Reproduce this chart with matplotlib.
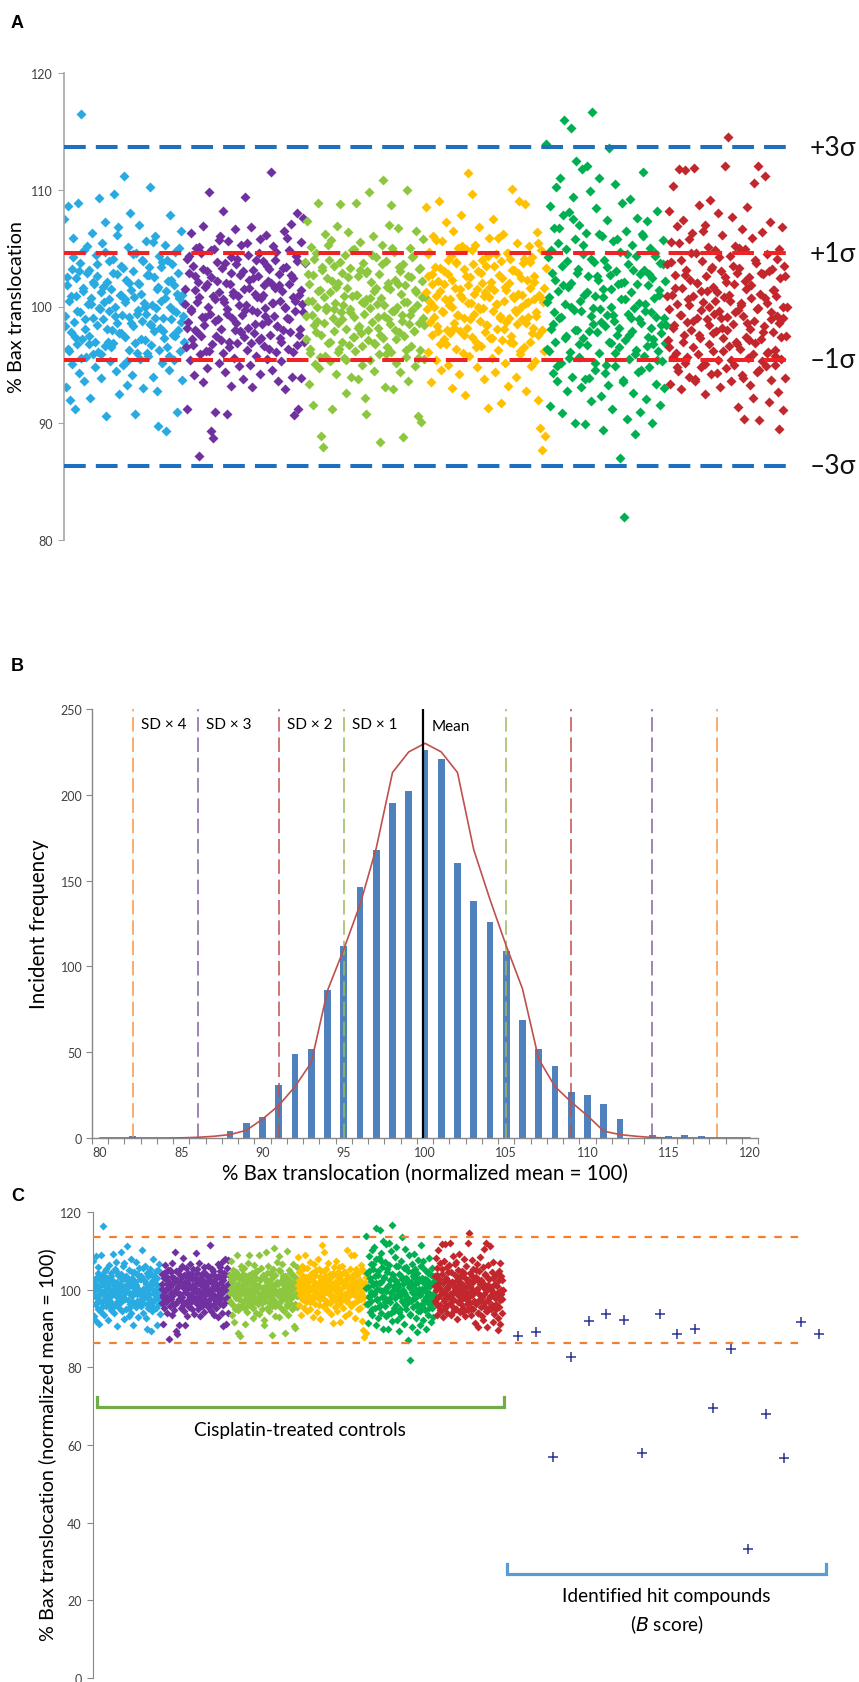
import matplotlib
matplotlib.use("Agg")
import matplotlib.pyplot as plt
import numpy as np

W, H = 859, 1683
FONT = ["Lato", "DejaVu Sans"]

# ---- panel A / C: control wells, six plates ----
cyan_vals = [
    107.5, 99.2, 93.1, 101.8, 96.4, 108.6, 100.5, 92.0, 97.8, 103.2, 95.1, 105.9, 98.7, 91.2, 102.4,
    100.9, 96.8, 108.9, 94.3, 103.7, 99.5, 116.5, 97.2, 101.6, 93.6, 104.8, 98.1, 95.7, 102.9, 100.2,
    97.5, 103.1, 92.2, 100.7, 106.3, 95.9, 99.0, 101.9, 94.8, 104.4, 98.4, 102.6, 96.1, 109.3, 99.8,
    101.2, 93.9, 105.4, 98.9, 100.4, 96.6, 107.2, 90.6, 102.1, 97.0, 103.9, 99.6, 95.3, 101.5, 98.0,
    104.1, 96.9, 109.6, 100.0, 94.5, 102.8, 98.6, 106.8, 92.5, 101.0, 97.7, 103.5, 99.3, 95.0, 111.2,
    100.6, 97.4, 102.3, 93.3, 105.1, 99.1, 96.3, 108.0, 101.4, 94.1, 103.0, 98.3, 100.8, 90.8, 104.6,
    96.0, 102.0, 99.7, 107.0, 95.5, 101.1, 98.8, 104.0, 93.0, 100.3, 97.1, 105.6, 99.4, 102.7, 95.8,
    103.4, 98.5, 110.2, 96.7, 100.1, 94.0, 102.5, 97.9, 106.0, 99.9, 92.8, 101.7, 89.8, 104.3, 98.2,
    100.5, 95.2, 103.8, 99.0, 97.3, 105.3, 101.3, 89.3, 96.5, 102.2, 94.6, 100.0, 107.8, 98.9, 103.6,
    97.6, 101.8, 95.4, 104.7, 99.5, 91.0, 102.9, 98.0, 100.7, 96.2, 106.5, 93.7, 101.0, 99.2, 97.0,
]
cyan_core = [
    98.3, 102.5, 96.2, 100.9, 104.2, 97.4, 99.6, 103.0, 95.6, 101.3, 98.9, 105.2, 96.8, 100.2, 102.1,
    97.0, 103.6, 99.9, 95.9, 101.7, 104.7, 98.1, 100.6, 96.5, 102.9, 99.2, 106.1, 97.7, 101.0, 103.3,
    100.4, 95.3, 102.0, 98.6, 104.5, 96.9, 99.4, 101.9, 97.2, 103.9, 100.0, 96.0, 102.7, 98.4, 105.5,
    99.0, 101.5, 96.3, 103.4, 97.9, 100.7, 104.0, 95.8, 102.3, 99.7, 97.5, 101.1, 105.0, 98.7, 100.3,
]
purple_vals = [
    100.2, 96.5, 104.1, 91.2, 98.7, 102.9, 95.4, 106.3, 99.6, 97.2, 103.5, 94.1, 101.4, 98.0, 105.0,
    97.8, 102.1, 87.2, 100.8, 95.9, 104.6, 99.1, 93.5, 106.9, 98.4, 101.7, 96.2, 103.0, 94.7, 100.0,
    109.8, 99.4, 89.3, 102.5, 96.8, 88.7, 104.9, 100.6, 91.0, 97.5, 103.8, 98.9, 95.2, 101.2, 106.0,
    98.1, 103.3, 96.0, 108.2, 100.4, 94.4, 102.0, 90.8, 99.8, 105.6, 97.0, 101.9, 93.2, 104.2, 99.0,
    101.0, 95.6, 106.6, 98.6, 103.6, 96.9, 100.9, 94.9, 102.7, 97.9, 105.3, 99.3, 93.8, 101.5, 97.4,
    109.4, 100.1, 96.3, 104.4, 98.2, 102.3, 95.0, 106.8, 99.7, 93.1, 103.1, 97.7, 101.1, 95.8, 104.0,
    99.5, 102.6, 97.1, 105.8, 94.2, 100.7, 98.5, 103.9, 96.6, 101.8, 99.9, 106.1, 95.5, 102.2, 98.8,
    103.2, 97.6, 111.5, 100.3, 94.6, 105.2, 99.2, 101.6, 96.1, 104.7, 98.3, 93.6, 102.8, 100.5, 97.3,
    95.3, 101.3, 98.0, 106.5, 100.0, 92.9, 103.4, 99.0, 96.4, 104.8, 101.9, 97.8, 107.1, 94.0, 100.8,
    102.4, 90.7, 99.6, 104.3, 96.7, 108.0, 91.2, 101.0, 98.1, 105.5, 93.9, 100.2, 107.6, 97.0, 103.7,
]
purple_core = [
    101.5, 98.2, 104.3, 99.8, 96.7, 102.6, 100.4, 105.1, 97.5, 103.2, 99.1, 101.9, 96.2, 104.8, 100.9,
    98.8, 102.2, 105.7, 97.1, 100.6, 103.7, 99.4, 96.5, 102.9, 101.2, 98.0, 104.1, 100.1, 97.8, 103.0,
    99.7, 105.4, 101.6, 96.9, 102.4, 98.5, 100.8, 104.6, 97.3, 101.0, 99.2, 103.5, 96.4, 102.0, 100.3,
    104.0, 98.3, 101.8, 97.0, 103.3, 99.9, 105.9, 98.9, 102.7, 96.1, 100.5, 103.9, 97.6, 101.4, 99.5,
]
lime_vals = [
    103.8, 97.2, 107.3, 100.5, 93.4, 101.9, 96.0, 105.1, 99.3, 91.6, 102.7, 98.4, 95.1, 104.6, 100.0,
    98.8, 108.9, 94.7, 101.4, 88.9, 97.6, 103.1, 88.0, 100.8, 106.2, 95.8, 99.7, 102.4, 96.9, 104.0,
    101.2, 95.3, 105.7, 91.2, 99.0, 103.5, 97.9, 100.3, 94.2, 106.9, 98.6, 102.0, 96.4, 108.8, 99.5,
    97.0, 102.9, 100.1, 95.6, 104.4, 98.1, 92.6, 101.6, 106.4, 96.7, 103.3, 99.8, 94.0, 100.9, 97.4,
    104.9, 99.1, 96.2, 108.9, 101.0, 93.8, 102.6, 98.3, 105.5, 97.7, 100.4, 95.0, 103.7, 99.4, 92.2,
    100.6, 90.8, 103.0, 97.1, 109.8, 99.9, 95.4, 102.1, 98.7, 106.0, 94.5, 101.3, 96.8, 104.2, 100.2,
    98.2, 102.8, 95.9, 88.4, 100.7, 105.3, 97.3, 110.8, 99.2, 93.1, 103.9, 96.5, 101.7, 98.9, 107.0,
    101.5, 96.1, 108.7, 99.6, 92.9, 104.7, 98.0, 102.3, 95.2, 100.0, 106.7, 97.8, 103.4, 94.4, 101.1,
    99.3, 88.8, 103.6, 97.5, 101.8, 95.7, 110.0, 100.4, 93.6, 98.5, 105.0, 102.5, 96.6, 99.7, 104.3,
    97.9, 101.4, 94.9, 106.5, 100.1, 90.6, 103.2, 98.6, 96.3, 90.1, 102.2, 99.0, 105.8, 95.5, 100.8,
]
lime_core = [
    99.2, 102.8, 96.4, 100.5, 104.1, 97.8, 101.3, 95.7, 103.4, 98.6, 100.0, 105.3, 97.0, 102.2, 99.8,
    101.7, 96.1, 103.8, 98.9, 100.9, 95.4, 102.5, 99.5, 104.8, 97.4, 101.0, 98.2, 103.1, 96.6, 100.3,
    102.9, 98.0, 100.7, 104.4, 96.9, 101.6, 99.1, 97.6, 103.6, 100.1, 95.9, 102.0, 98.5, 105.0, 99.6,
    97.2, 101.9, 103.0, 98.8, 100.4, 96.3, 102.6, 99.3, 104.2, 97.9, 101.2, 95.6, 103.3, 100.8, 98.4,
]
yellow_vals = [
    108.5, 99.8, 102.6, 96.1, 104.7, 100.4, 93.5, 101.9, 97.6, 106.0, 99.1, 103.4, 95.4, 100.9, 98.3,
    102.2, 109.0, 96.8, 101.3, 94.6, 105.6, 99.5, 103.0, 97.2, 100.6, 107.2, 98.0, 95.0, 102.8, 100.1,
    97.7, 104.3, 100.0, 93.0, 106.5, 98.6, 101.6, 96.4, 103.8, 99.3, 105.0, 94.2, 101.0, 97.9, 107.8,
    100.7, 96.0, 103.2, 99.0, 92.4, 104.9, 98.2, 101.8, 111.4, 95.8, 102.5, 100.3, 109.6, 97.4, 103.6,
    99.4, 105.3, 97.0, 101.5, 94.8, 100.0, 106.8, 98.8, 102.9, 96.6, 104.0, 99.9, 93.8, 101.2, 97.8,
    103.5, 98.4, 91.3, 100.8, 105.9, 97.3, 102.1, 95.6, 107.5, 99.6, 101.4, 94.4, 104.5, 98.1, 100.2,
    96.3, 102.7, 99.2, 91.7, 103.9, 97.1, 106.2, 100.5, 95.2, 101.7, 98.7, 104.6, 93.2, 102.0, 99.0,
    104.1, 97.5, 110.1, 100.9, 96.9, 103.1, 99.7, 94.0, 105.4, 98.5, 101.1, 109.0, 95.9, 102.4, 100.0,
    98.9, 103.7, 96.5, 108.8, 100.3, 92.8, 102.3, 99.1, 105.2, 97.0, 101.6, 94.9, 104.2, 98.2, 100.6,
    102.6, 95.3, 99.5, 106.4, 97.6, 92.0, 101.0, 89.6, 104.8, 98.0, 87.7, 100.4, 96.2, 88.9, 103.3,
]
yellow_core = [
    101.2, 104.5, 98.7, 102.8, 100.0, 105.7, 97.9, 103.3, 99.6, 101.9, 96.8, 104.0, 100.6, 102.3, 98.2,
    103.7, 99.3, 101.5, 105.2, 97.6, 102.6, 100.3, 98.9, 104.8, 101.1, 96.5, 103.0, 99.8, 102.0, 100.9,
    98.4, 104.3, 101.7, 97.3, 103.5, 100.2, 105.9, 99.0, 102.4, 98.1, 101.4, 104.6, 97.0, 103.1, 100.7,
    99.5, 102.9, 96.2, 101.0, 104.1, 98.6, 100.4, 103.8, 97.7, 102.1, 99.2, 105.4, 100.8, 98.0, 101.6,
]
green_vals = [
    113.9, 96.4, 104.2, 100.8, 91.5, 108.6, 98.1, 102.9, 94.3, 106.7, 99.5, 97.0, 110.2, 93.6, 101.3,
    105.4, 99.0, 111.0, 95.2, 103.5, 90.9, 107.8, 116.0, 100.2, 97.5, 104.9, 92.8, 101.7, 108.1, 96.1,
    115.3, 102.0, 94.0, 109.4, 99.7, 105.8, 90.0, 112.5, 98.0, 103.2, 95.7, 107.0, 100.5, 93.1, 111.8,
    97.3, 104.5, 101.0, 89.9, 106.3, 112.0, 96.7, 102.6, 93.9, 109.9, 99.2, 91.9, 116.7, 98.5, 103.8,
    100.9, 94.6, 108.4, 97.8, 102.3, 96.0, 111.0, 99.8, 92.3, 106.0, 101.5, 89.4, 104.0, 98.3, 95.0,
    107.4, 99.3, 93.3, 113.6, 102.7, 96.9, 100.0, 91.2, 105.6, 98.8, 110.5, 94.9, 103.0, 97.6, 101.9,
    96.5, 104.7, 87.0, 100.6, 108.9, 93.7, 82.0, 102.1, 97.1, 106.5, 90.4, 99.4, 103.6, 95.5, 109.2,
    101.2, 97.9, 105.3, 92.6, 99.9, 89.1, 104.3, 96.3, 107.6, 94.4, 100.3, 102.8, 91.0, 98.6, 106.2,
    111.5, 95.8, 103.1, 99.6, 92.1, 107.3, 97.4, 101.8, 94.8, 105.0, 98.2, 90.0, 102.4, 96.8, 100.7,
    104.6, 93.4, 99.1, 108.2, 96.2, 101.4, 91.6, 103.7, 97.7, 95.3, 105.7, 99.0, 93.0, 102.2, 98.4,
]
green_core = [
    100.4, 96.2, 104.8, 98.5, 102.3, 94.9, 106.7, 99.1, 101.8, 97.3, 103.9, 95.6, 100.0, 107.5, 98.0,
    102.9, 96.8, 99.6, 105.3, 93.8, 101.2, 97.9, 104.1, 99.9, 95.2, 102.6, 106.2, 98.7, 100.8, 94.3,
    103.4, 97.0, 101.5, 99.3, 96.0, 105.8, 98.2, 102.0, 93.5, 100.6, 104.5, 97.6, 99.0, 103.1, 95.9,
    101.9, 98.9, 94.6, 106.0, 100.2, 96.6, 102.8, 99.5, 97.2, 104.3, 95.4, 101.0, 98.4, 103.6, 96.9,
]
red_vals = [
    103.6, 97.1, 108.2, 99.8, 93.4, 105.5, 101.0, 95.7, 110.3, 98.4, 102.7, 96.0, 106.9, 100.2, 94.5,
    111.8, 99.3, 104.0, 92.9, 101.6, 107.4, 97.6, 111.7, 95.2, 103.1, 98.7, 100.6, 105.8, 94.0, 102.3,
    98.0, 106.3, 100.9, 96.5, 111.9, 93.8, 104.6, 99.0, 102.0, 95.9, 108.7, 97.3, 101.3, 94.8, 103.9,
    100.4, 95.1, 107.0, 92.5, 102.6, 98.9, 105.1, 96.8, 100.0, 109.1, 94.2, 103.4, 97.7, 101.7, 99.4,
    104.8, 97.9, 101.2, 95.4, 108.0, 99.6, 93.1, 103.0, 98.2, 106.1, 96.2, 100.8, 112.0, 94.7, 102.1,
    99.1, 114.5, 96.6, 104.3, 100.5, 93.6, 107.7, 98.5, 101.9, 95.0, 105.2, 97.0, 102.9, 99.7, 91.4,
    103.3, 96.4, 100.1, 106.6, 94.1, 99.2, 90.4, 104.9, 97.4, 101.5, 108.5, 95.6, 102.5, 98.1, 93.3,
    100.7, 105.9, 92.2, 98.8, 110.6, 96.9, 103.7, 94.4, 112.0, 99.9, 90.3, 101.1, 97.2, 106.4, 95.3,
    102.8, 98.3, 111.2, 94.9, 100.3, 104.5, 96.1, 91.8, 107.2, 99.5, 93.7, 103.2, 97.8, 101.4, 95.8,
    96.3, 100.9, 104.1, 92.7, 98.6, 89.5, 102.4, 95.5, 106.8, 91.1, 99.0, 103.5, 93.9, 97.5, 100.0,
]
red_core = [
    100.9, 96.5, 103.8, 98.2, 101.6, 94.8, 105.4, 99.3, 97.0, 102.7, 95.7, 100.1, 104.6, 98.8, 93.6,
    102.0, 97.6, 99.7, 106.5, 95.1, 101.3, 98.4, 103.2, 96.2, 100.5, 94.3, 104.2, 99.0, 97.3, 102.5,
    98.0, 101.0, 95.4, 103.5, 99.5, 96.8, 105.0, 100.3, 93.9, 102.2, 98.6, 97.1, 101.8, 95.9, 104.0,
    99.8, 94.6, 102.9, 97.8, 100.7, 96.0, 103.0, 98.9, 101.4, 95.0, 99.2, 104.9, 97.4, 100.0, 102.6,
]
plate_vals = [cyan_vals, purple_vals, lime_vals, yellow_vals, green_vals, red_vals]
plate_core = [cyan_core, purple_core, lime_core, yellow_core, green_core, red_core]
plate_colors = ["#29abe2", "#7030a0", "#8dc63f", "#ffc000", "#00b050", "#c1272d"]

sigma_levels = [113.65, 104.55, 95.45, 86.35]
sigma_labels = ["+3σ", "+1σ", "–1σ", "–3σ"]
sigma_colors = ["#1f6fc1", "#ee2326", "#ee2326", "#1f6fc1"]

# ---- panel B: histogram of control wells ----
bin_centers = list(range(80, 121))
bin_counts = [0, 0, 1, 0, 0, 0, 0, 0, 4, 9, 12, 31, 49, 52, 86, 112, 146, 168, 195, 202,
              226, 221, 160, 138, 126, 109, 69, 52, 42, 27, 25, 20, 11, 0, 2, 1, 2, 1, 0, 0, 0]
fit_counts = [0, 0, 0, 0, 0, 0.1, 0.4, 1, 2, 4.5, 11, 19, 30, 44, 86, 110, 136, 169, 213, 225,
              230, 225, 213, 168, 139, 112, 87, 46, 30, 21, 13, 4, 2, 1, 0.3, 0, 0, 0, 0, 0, 0]
sd_lines = [82, 86, 91, 95, 105, 109, 114, 118]
sd_colors = ["#f79646", "#8064a2", "#c0504d", "#9bbb59", "#9bbb59", "#c0504d", "#8064a2", "#f79646"]
sd_texts = ["SD × 4", "SD × 3", "SD × 2", "SD × 1"]
mean_pos = 99.85

# ---- panel C: hit compounds ----
hit_vals = [88.1, 89.1, 56.9, 82.7, 91.9, 93.7, 92.2, 58.0, 93.7,
            88.6, 89.9, 69.5, 84.7, 33.3, 68.0, 56.7, 91.7, 88.6]


def px_axes(fig, left, top, right, bottom):
    return fig.add_axes([left / W, 1 - bottom / H, (right - left) / W, (bottom - top) / H])


def style_ticks(ax):
    ax.tick_params(axis="both", labelsize=9, colors="#404040", length=4, width=0.8,
                   direction="out", pad=3)
    for lab in ax.get_xticklabels() + ax.get_yticklabels():
        lab.set_family(FONT)


def draw_plates(ax, ms):
    for g, (vals, core) in enumerate(zip(plate_vals, plate_core)):
        x = g + (np.arange(len(vals)) + 0.5) / len(vals)
        xc = g + (np.arange(len(core)) + 0.25) / len(core)
        ax.plot(np.r_[x, xc], vals + core, "D", ms=ms, color=plate_colors[g], mec="none",
                zorder=2)


fig = plt.figure(figsize=(W / 100, H / 100), dpi=100)

# ================= A =================
axA = px_axes(fig, 64, 74, 793, 541)
draw_plates(axA, 4.7)
for lev, lab, col in zip(sigma_levels, sigma_labels, sigma_colors):
    axA.axhline(lev, color=col, lw=2.9, dashes=(5.4, 2.5), zorder=3)
    axA.text(6.19, lev, lab, fontsize=19, family=FONT, va="center", ha="left",
             color="#111111", clip_on=False)
axA.set_xlim(0, 729 / 120.5)
axA.set_ylim(80, 120)
axA.set_yticks([80, 90, 100, 110, 120])
axA.set_xticks([])
for s in ["top", "right", "bottom"]:
    axA.spines[s].set_visible(False)
axA.spines["left"].set_color("#a6a6a6")
axA.spines["left"].set_linewidth(1.2)
style_ticks(axA)
axA.tick_params(axis="y", colors="#a6a6a6", labelcolor="#404040", pad=4)
fig.text(17 / W, 1 - 307 / H, "% Bax translocation", rotation=90, fontsize=14.3,
         family=FONT, ha="center", va="center")

# ================= B =================
axB = px_axes(fig, 92, 710, 758, 1139)
axB.bar(bin_centers, bin_counts, width=0.42, color="#4f81bd", zorder=2)
axB.plot(bin_centers, fit_counts, color="#c0504d", lw=1.2, zorder=4)
for xv, col in zip(sd_lines, sd_colors):
    axB.plot([xv, xv], [0, 250], color=col, lw=1.1, dashes=(9.5, 3.8), zorder=3)
axB.plot([mean_pos, mean_pos], [0, 250], color="black", lw=1.6, zorder=5)
for xv, txt in zip(sd_lines[:4], sd_texts):
    axB.text(xv + 0.5, 241, txt, fontsize=11, family=FONT, va="center", ha="left")
axB.text(mean_pos + 0.55, 240, "Mean", fontsize=11, family=FONT, va="center", ha="left")
axB.set_xlim(79.5, 120.5)
axB.set_ylim(0, 250)
axB.set_yticks(range(0, 251, 50))
axB.set_xticks(range(80, 121, 5))
axB.set_xticks(np.arange(79.5, 121, 1), minor=True)
for s in ["top", "right"]:
    axB.spines[s].set_visible(False)
for s in ["left", "bottom"]:
    axB.spines[s].set_color("#888888")
    axB.spines[s].set_linewidth(1.0)
style_ticks(axB)
axB.tick_params(axis="x", which="major", length=0, pad=6)
axB.tick_params(axis="x", which="minor", length=4, width=0.8, color="#888888")
axB.tick_params(axis="y", colors="#888888", labelcolor="#404040")
axB.set_ylabel("Incident frequency", fontsize=14.8, family=FONT, labelpad=8)
axB.set_xlabel("% Bax translocation (normalized mean = 100)", fontsize=14.8, family=FONT,
               labelpad=3)

# ================= C =================
axC = px_axes(fig, 93, 1213, 830, 1679)
draw_plates(axC, 3.7)
hit_x = 6.22 + 0.2595 * np.arange(len(hit_vals))
axC.plot(hit_x, hit_vals, "+", ms=7.5, mew=1.1, color="#2e3192", zorder=4)
for lev in (sigma_levels[0], sigma_levels[3]):
    axC.plot([0, 10.42], [lev, lev], color="#f07f2e", lw=1.6, dashes=(3.4, 3.9), zorder=3)
# brackets
axC.plot([0.06, 0.06, 6.02, 6.02], [72.4, 69.8, 69.8, 72.4], color="#70ad47", lw=2.3,
         solid_joinstyle="miter", clip_on=False)
axC.plot([6.06, 6.06, 10.73, 10.73], [29.4, 26.8, 26.8, 29.4], color="#5b9bd5", lw=2.3,
         solid_joinstyle="miter", clip_on=False)
axC.text(3.03, 64.1, "Cisplatin-treated controls", fontsize=13.7, family=FONT,
         ha="center", va="center")
axC.text(8.40, 21.2, "Identified hit compounds", fontsize=13.7, family=FONT,
         ha="center", va="center")
axC.text(8.40, 13.9, "($\\it{B}$ score)", fontsize=13.7, family=FONT, ha="center", va="center")
axC.set_xlim(0, 737 / 68.3)
axC.set_ylim(0, 120)
axC.set_yticks(range(0, 121, 20))
axC.set_xticks([])
for s in ["top", "right", "bottom"]:
    axC.spines[s].set_visible(False)
axC.spines["left"].set_color("#888888")
style_ticks(axC)
axC.tick_params(axis="y", colors="#888888", labelcolor="#404040", pad=4)
fig.text(47 / W, 1 - 1445 / H, "% Bax translocation (normalized mean = 100)", rotation=90,
         fontsize=14.3, family=FONT, ha="center", va="center")

# panel letters
for letter, ypx in (("A", 24), ("B", 667), ("C", 1197)):
    fig.text(11 / W, 1 - ypx / H, letter, fontsize=13, fontweight="bold",
             family="Liberation Sans", va="center", ha="left")

fig.savefig("out.png", dpi=100)
